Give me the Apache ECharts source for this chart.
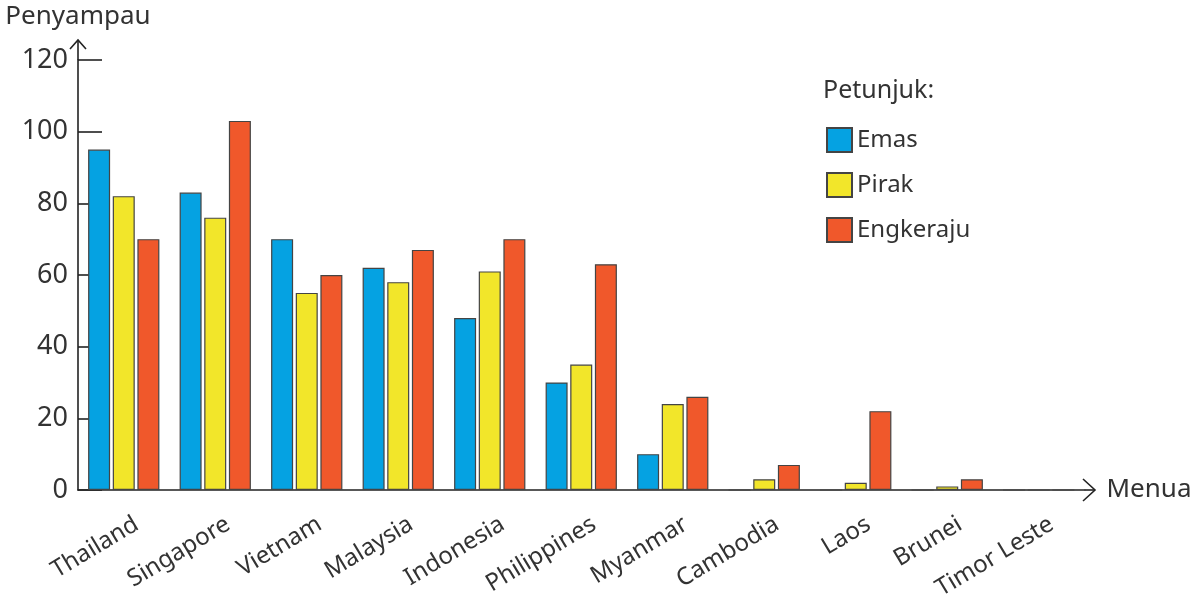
<!DOCTYPE html>
<html><head><meta charset="utf-8">
<script src="https://cdn.jsdelivr.net/npm/echarts@6/dist/echarts.min.js"></script>
<style>html,body{margin:0;padding:0;background:#fff}#c{width:1202px;height:597px}</style>
</head><body><div id="c"></div>
<script>
const categories = ['Thailand','Singapore','Vietnam','Malaysia','Indonesia','Philippines','Myanmar','Cambodia','Laos','Brunei','Timor Leste'];
const emas = [95, 83, 70, 62, 48, 30, 10, 0, 0, 0, 0];
const pirak = [82, 76, 55, 58, 61, 35, 24, 3, 2, 1, 0];
const engkeraju = [70, 103, 60, 67, 70, 63, 26, 7, 22, 3, 0];
const yTicks = [0, 20, 40, 60, 80, 100, 120];

const FONT = 'Noto Sans';
const TXT = '#333';
const AX = '#222';
const G = {left: 78, right: 117.5, top: 60, bottom: 107};
const W = 1202, H = 597;
const x0 = G.left, y0 = H - G.bottom, xEnd = W - G.right;

const chart = echarts.init(document.getElementById('c'), null, {renderer: 'canvas'});
const border = {borderColor: '#444', borderWidth: 1.2};
function bar(name, data, color) {
  return {name, type: 'bar', data, barWidth: 22, barGap: '12%',
    itemStyle: Object.assign({color}, border)};
}
chart.setOption({
  animation: false,
  backgroundColor: '#fff',
  textStyle: {fontFamily: FONT},
  grid: {left: G.left, right: G.right, top: G.top, bottom: G.bottom, containLabel: false, outerBoundsMode: 'none'},
  legend: {
    orient: 'vertical', left: 826, top: 127, padding: 0,
    itemWidth: 25, itemHeight: 24, itemGap: 19, icon: 'rect',
    textStyle: {fontSize: 24, color: TXT, fontFamily: FONT},
    data: ['Emas', 'Pirak', 'Engkeraju']
  },
  xAxis: {
    type: 'category', data: categories,
    name: 'Menua', nameLocation: 'end', nameGap: 22,
    nameTextStyle: {fontSize: 26, color: TXT, verticalAlign: 'middle'},
    axisLine: {lineStyle: {color: AX, width: 1.6}},
    axisTick: {inside: true, length: 11, lineStyle: {color: AX, width: 1.6}},
    axisLabel: {rotate: 31, fontSize: 24, color: TXT, margin: 11, interval: 0,
      verticalAlign: 'top', lineHeight: 50}
  },
  yAxis: {
    type: 'value', min: 0, max: yTicks[yTicks.length - 1], interval: 20,
    name: 'Penyampau', nameLocation: 'end', nameGap: 30,
    nameTextStyle: {fontSize: 26, color: TXT, align: 'center'},
    axisLine: {show: true, lineStyle: {color: AX, width: 1.6}},
    axisTick: {show: true, inside: true, length: 24, lineStyle: {color: AX, width: 1.6}},
    axisLabel: {fontSize: 27, color: TXT, margin: 10},
    splitLine: {show: false}
  },
  graphic: [
    {type: 'text', left: 823, top: 78, style: {text: 'Petunjuk:', fontSize: 25, fill: TXT, fontFamily: FONT}},
    {type: 'polyline', shape: {points: [[x0, G.top], [x0, 40]]}, style: {stroke: AX, lineWidth: 1.6, fill: null}},
    {type: 'polyline', shape: {points: [[x0 - 8, 49], [x0, 40], [x0 + 8, 49]]}, style: {stroke: AX, lineWidth: 1.6, fill: null}},
    {type: 'polyline', shape: {points: [[xEnd, y0], [1095, y0]]}, style: {stroke: AX, lineWidth: 1.6, fill: null}},
    {type: 'polyline', shape: {points: [[1083, y0 - 11], [1095, y0], [1083, y0 + 11]]}, style: {stroke: AX, lineWidth: 1.6, fill: null}}
  ],
  series: [
    bar('Emas', emas, '#05a2e2'),
    bar('Pirak', pirak, '#f2e62a'),
    bar('Engkeraju', engkeraju, '#f0582b')
  ]
});
</script></body></html>
